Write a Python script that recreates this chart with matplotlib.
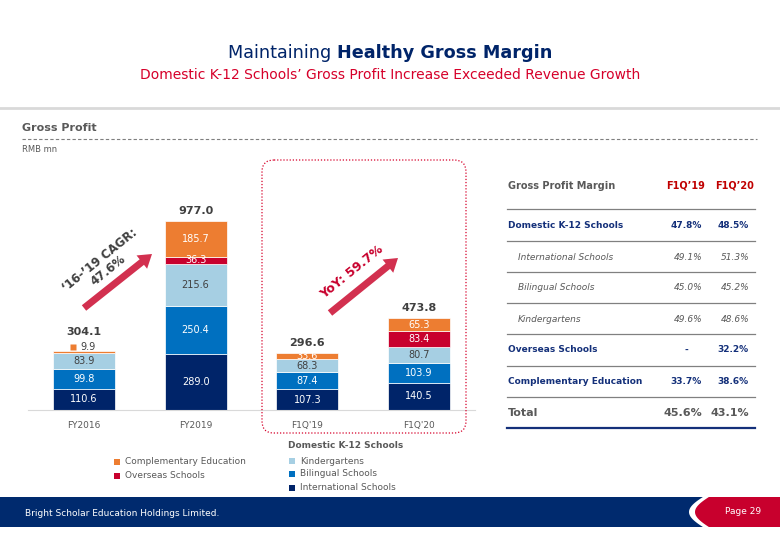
import matplotlib
matplotlib.use("Agg")
import matplotlib.pyplot as plt
from matplotlib.patches import Rectangle, FancyArrow, FancyBboxPatch, Polygon
import numpy as np

plt.rcParams['font.family'] = ['DejaVu Sans']

# ---- data ----
periods = ['FY2016', 'FY2019', "F1Q'19", "F1Q'20"]
international = [110.6, 289.0, 107.3, 140.5]
bilingual = [99.8, 250.4, 87.4, 103.9]
kindergartens = [83.9, 215.6, 68.3, 80.7]
overseas = [0.0, 36.3, 0.0, 83.4]
complementary = [9.9, 185.7, 33.6, 65.3]
totals = ['304.1', '977.0', '296.6', '473.8']

margin_rows = ['Domestic K-12 Schools', 'International Schools', 'Bilingual Schools',
               'Kindergartens', 'Overseas Schools', 'Complementary Education', 'Total']
margin_q19 = ['47.8%', '49.1%', '45.0%', '49.6%', '-', '33.7%', '45.6%']
margin_q20 = ['48.5%', '51.3%', '45.2%', '48.6%', '32.2%', '38.6%', '43.1%']
row_kind = ['main', 'sub', 'sub', 'sub', 'main', 'main', 'total']

NAVY = '#002469'
BLUE = '#0070C0'
LIGHT = '#A6CFE3'
RED = '#C8002D'
ORANGE = '#ED7D31'
GRAY = '#595959'
DARK = '#404040'
TNAVY = '#14307A'

W, H = 780, 540
fig = plt.figure(figsize=(7.8, 5.4), dpi=100)

# overlay axes in pixel coordinates
ov = fig.add_axes([0, 0, 1, 1], zorder=5)
ov.set_xlim(0, W)
ov.set_ylim(H, 0)
ov.axis('off')
ov.patch.set_alpha(0)

# ---- header ----
r = fig.canvas.get_renderer()
t1 = ov.text(0, 53, 'Maintaining ', fontsize=12.7, color=NAVY, va='center', ha='left')
t2 = ov.text(0, 53, 'Healthy Gross Margin', fontsize=12.7, color=NAVY, fontweight='bold',
             va='center', ha='left')
w1 = t1.get_window_extent(r).width
w2 = t2.get_window_extent(r).width
x0 = W / 2 - (w1 + w2) / 2
t1.set_x(x0)
t2.set_x(x0 + w1)
ov.text(W / 2, 75, 'Domestic K-12 Schools\u2019 Gross Profit Increase Exceeded Revenue Growth',
        fontsize=10, color='#D6002A', ha='center', va='center')
ov.plot([0, W], [108, 108], color='#D9D9D9', lw=2)
ov.text(22, 128, 'Gross Profit', fontsize=8, fontweight='bold', color=GRAY, va='center')
ov.plot([22, 757], [139, 139], color='#7F7F7F', lw=0.8, ls=(0, (3, 2)))
ov.text(22, 149, 'RMB mn', fontsize=6, color=GRAY, va='center')

# ---- bars ----
ax = fig.add_axes([28 / W, 130 / H, (475 - 28) / W, 220 / H])
x = np.arange(len(periods))
bw = 0.555
series = [international, bilingual, kindergartens, overseas, complementary]
colors = [NAVY, BLUE, LIGHT, RED, ORANGE]
bottom = np.zeros(len(periods))
for vals, col in zip(series, colors):
    vals = np.array(vals)
    ax.bar(x, vals, bw, bottom=bottom, color=col, edgecolor='white', linewidth=0.5)
    for i, v in enumerate(vals):
        if v <= 0 or (i == 0 and col == ORANGE):
            continue
        tc = DARK if col == LIGHT else 'white'
        ax.text(x[i], bottom[i] + v / 2, f'{v:.1f}', ha='center', va='center',
                fontsize=7, color=tc)
    bottom += vals

# small complementary value for FY2016
ax.plot(x[0] - 0.1, bottom[0] + 22, marker='s', ms=4, color=ORANGE, mec='none')
ax.text(x[0] - 0.035, bottom[0] + 22, f'{complementary[0]:.1f}', ha='left', va='center',
        fontsize=7, color=DARK)

for i, t in enumerate(totals):
    off = 14 if i == 0 else 5
    ax.annotate(t, (x[i], bottom[i]), xytext=(0, off), textcoords='offset pixels',
                ha='center', va='bottom', fontsize=8, fontweight='bold', color=DARK)

ax.set_xlim(-0.5, 3.5)
ax.set_ylim(0, 220 / 0.1935)
ax.set_xticks(x)
ax.set_xticklabels(periods, fontsize=6.5, color=GRAY)
ax.tick_params(axis='x', length=0, pad=8)
ax.set_yticks([])
for s in ['top', 'right', 'left']:
    ax.spines[s].set_visible(False)
ax.spines['bottom'].set_color('#D9D9D9')
ax.patch.set_alpha(0)

# ---- arrows & growth labels ----
ARROW = '#D2304F'
ov.add_patch(FancyArrow(84, 308, 68, -54, width=7, head_width=17, head_length=13,
                        length_includes_head=True, color=ARROW, lw=0))
ov.add_patch(FancyArrow(330, 313, 68, -55, width=7, head_width=17, head_length=13,
                        length_includes_head=True, color=ARROW, lw=0))
ov.text(104, 265, "\u201816-\u201919 CAGR:\n47.6%", rotation=39, ha='center', va='center',
        fontsize=8.5, fontweight='bold', color=DARK, linespacing=1.0,
        rotation_mode='anchor')
ov.text(352, 272, 'YoY: 59.7%', rotation=39, ha='center', va='center',
        fontsize=9, fontweight='bold', color='#C8002D', rotation_mode='anchor')

# dotted highlight box
ov.add_patch(FancyBboxPatch((262, 160), 204, 273, boxstyle='round,pad=0,rounding_size=12',
                            fill=False, edgecolor='#D6002A', lw=0.9, ls=(0, (1, 1.5))))

# ---- legend ----
def legend_item(xp, yp, col, label):
    ov.add_patch(Rectangle((xp, yp - 3), 6, 6, color=col, lw=0))
    ov.text(xp + 11, yp, label, fontsize=6.5, color=GRAY, va='center')

legend_item(114, 462, ORANGE, 'Complementary Education')
legend_item(114, 476, RED, 'Overseas Schools')
ov.text(288, 446, 'Domestic K-12 Schools', fontsize=6.5, fontweight='bold', color=GRAY,
        va='center')
legend_item(289, 461, LIGHT, 'Kindergartens')
legend_item(289, 474, BLUE, 'Bilingual Schools')
legend_item(289, 488, NAVY, 'International Schools')

# ---- margin table ----
ov.text(508, 186, 'Gross Profit Margin', fontsize=7, fontweight='bold', color=GRAY, va='center')
ov.text(686, 186, "F1Q\u201919", fontsize=7, fontweight='bold', color='#C00000',
        va='center', ha='center')
ov.text(735, 186, "F1Q\u201920", fontsize=7, fontweight='bold', color='#C00000',
        va='center', ha='center')
line_y = [209, 241, 272, 303, 334, 366, 397]
for ly in line_y:
    ov.plot([507, 755], [ly, ly], color='#808080', lw=0.9)
ov.plot([507, 755], [428, 428], color=TNAVY, lw=1.6)
row_y = [225, 257, 288, 319, 350, 382, 413]
for name, a, b, kind, ry in zip(margin_rows, margin_q19, margin_q20, row_kind, row_y):
    if kind == 'main':
        kw = dict(fontsize=6.5, fontweight='bold', color=TNAVY)
        xl = 508
    elif kind == 'sub':
        kw = dict(fontsize=6.5, style='italic', color=GRAY)
        xl = 518
    else:
        kw = dict(fontsize=8, fontweight='bold', color=GRAY)
        xl = 508
    ov.text(xl, ry, name, va='center', ha='left', **kw)
    if a == '-':
        ov.text(686, ry, a, va='center', ha='center', **kw)
    else:
        ov.text(702, ry, a, va='center', ha='right', **kw)
    ov.text(749, ry, b, va='center', ha='right', **kw)

# ---- footer ----
ov.add_patch(Rectangle((0, 497), W, 30, color='#002A6E', lw=0))
tt = np.linspace(0, 1, 40)
edge_x = 711 - 17 * np.sin(np.pi * tt)
edge_y = 495 + 34 * tt
ov.add_patch(Polygon(np.column_stack([np.r_[edge_x - 5, W, W], np.r_[edge_y, 529, 495]]),
                     closed=True, color='white', lw=0))
ov.add_patch(Polygon(np.column_stack([np.r_[edge_x + 1, W, W], np.r_[edge_y, 529, 495]]),
                     closed=True, color='#C8002D', lw=0))
ov.add_patch(Rectangle((690, 527), W - 690, 3, color='white', lw=0))
ov.add_patch(Rectangle((690, 494), W - 690, 3, color='white', lw=0))
ov.text(25, 513, 'Bright Scholar Education Holdings Limited.', fontsize=6.5, color='white',
        va='center')
ov.text(761, 512, 'Page 29', fontsize=6.5, color='white', va='center', ha='right')

fig.savefig('out.png', dpi=100)
